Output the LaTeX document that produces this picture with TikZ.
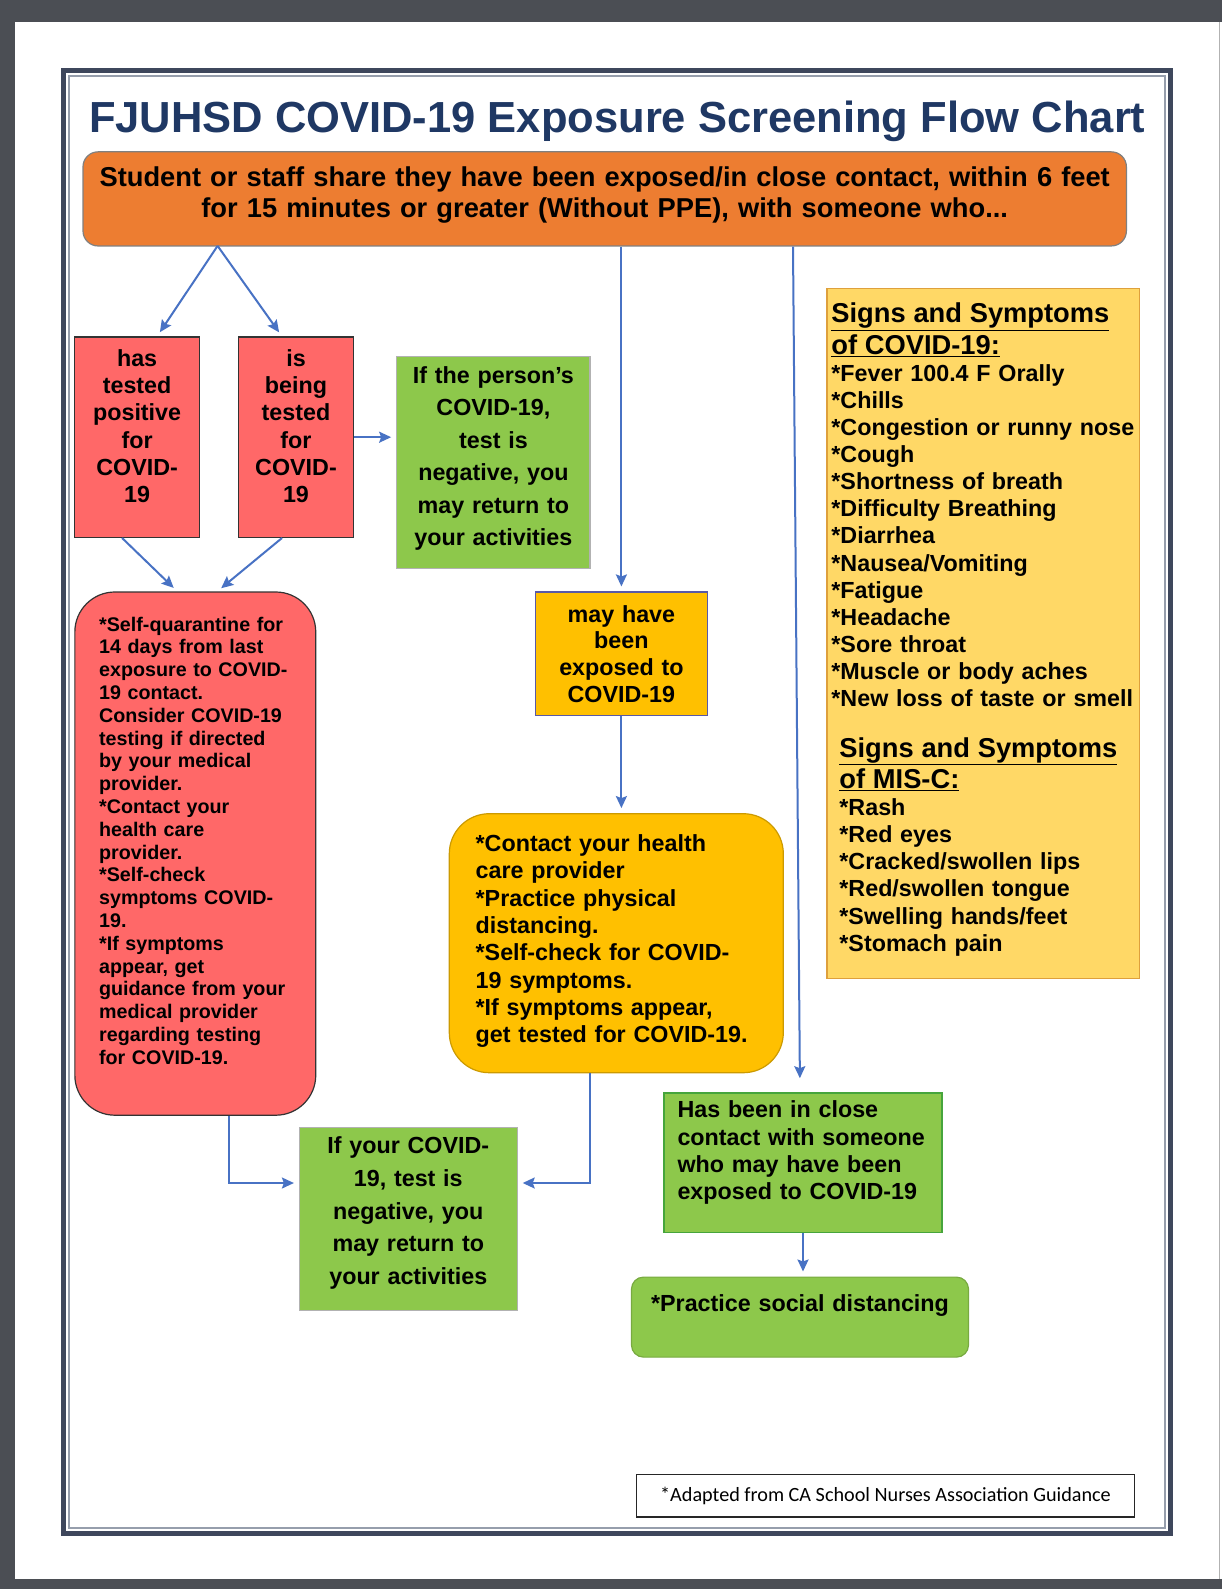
\documentclass[tikz,border=0pt]{standalone}
\usepackage{fontspec}
\setmainfont{Liberation Sans}
\newfontfamily\notefont{Carlito}
\usepackage{tikz}
\usetikzlibrary{arrows.meta}

\definecolor{pagegray}{RGB}{75,78,84}
\definecolor{framedark}{RGB}{62,71,92}
\definecolor{framelight}{RGB}{150,158,172}
\definecolor{titleblue}{RGB}{31,56,100}
\definecolor{orangefill}{RGB}{237,125,49}
\definecolor{redfill}{RGB}{255,104,104}
\definecolor{greenfill}{RGB}{141,200,75}
\definecolor{greenline}{RGB}{70,165,60}
\definecolor{yellowfill}{RGB}{255,192,0}
\definecolor{signfill}{RGB}{255,216,102}
\definecolor{signline}{RGB}{222,160,60}
\definecolor{arrowblue}{RGB}{72,114,196}

\tikzstyle{startstop} = [rectangle, rounded corners=15pt, minimum width=1043.4pt, minimum height=94.1pt, text width=1022pt, align=center, inner sep=0pt, draw=gray, line width=1.2pt, fill=orangefill, font=\bfseries\fontsize{27.3}{31.4}\selectfont]
\tikzstyle{redbox} = [rectangle, minimum height=200.4pt, align=center, inner sep=0pt, draw=black!80, line width=1.2pt, fill=redfill, font=\bfseries\fontsize{23.3}{27.3}\selectfont]
\tikzstyle{redround} = [rectangle, rounded corners=40pt, minimum width=240.9pt, minimum height=523.2pt, text width=192.3pt, align=left, inner sep=0pt, draw=black!80, line width=1.2pt, fill=redfill, font=\bfseries\fontsize{19.7}{22.8}\selectfont]
\tikzstyle{greenbox} = [rectangle, align=center, inner sep=0pt, draw=gray!60, line width=1.2pt, fill=greenfill, font=\bfseries\fontsize{23.3}{32.4}\selectfont]
\tikzstyle{yellowbox} = [rectangle, minimum width=172pt, minimum height=123.5pt, text width=162pt, align=center, inner sep=0pt, draw=gray!70!blue, line width=1.2pt, fill=yellowfill, font=\bfseries\fontsize{23.3}{26.6}\selectfont]
\tikzstyle{yellowround} = [rectangle, rounded corners=40pt, minimum width=334pt, minimum height=259pt, text width=281.3pt, align=left, inner sep=0pt, draw=yellowfill!80!black, line width=1.2pt, fill=yellowfill, font=\bfseries\fontsize{23.3}{27.3}\selectfont]
\tikzstyle{closebox} = [rectangle, minimum width=278.3pt, minimum height=139.7pt, text width=251pt, align=left, inner sep=0pt, draw=greenline, line width=1.5pt, fill=greenfill, font=\bfseries\fontsize{23.3}{27.3}\selectfont]
\tikzstyle{distbox} = [rectangle, rounded corners=12pt, minimum width=337pt, minimum height=80pt, text width=323.8pt, align=center, inner sep=0pt, draw=greenfill!85!black, line width=1.2pt, fill=greenfill, font=\bfseries\fontsize{23.3}{27.3}\selectfont]
\tikzstyle{signbox} = [rectangle, minimum width=312.7pt, minimum height=690.2pt, text width=303.6pt, align=left, inner sep=0pt, draw=signline, line width=1.5pt, fill=signfill, font=\bfseries\fontsize{23.3}{27.1}\selectfont]
\tikzstyle{notebox} = [rectangle, minimum width=497.9pt, minimum height=42.5pt, inner sep=0pt, draw=black!85, line width=1.5pt, fill=white, font=\notefont\fontsize{20.2}{24}\selectfont]
\tikzstyle{arrow} = [line width=2pt, ->, >={Stealth[length=12pt, width=11pt, inset=2pt]}, draw=arrowblue, shorten >=5pt]
\tikzset{lift/.style={execute at end node={\par\vspace{#1}}}}

\begin{document}
\begin{tikzpicture}[x=1pt, y=-1pt]

  \useasboundingbox (0,0) rectangle (1222,1589);
  \fill [pagegray] (0,0) rectangle (1222,1589);
  \fill [white] (15,22) rectangle (1222,1579);
  \draw [gray!60, line width=1pt] (1219,22) -- (1219,1579);
  \draw [framedark, line width=5pt] (63.5,70.5) rectangle (1170.5,1533.5);
  \draw [framelight, line width=1.2pt] (69,76) rectangle (1165,1528);

  \node (title) [anchor=base, text=titleblue, font=\bfseries\fontsize{43.5}{48}\selectfont] at (617.3,132.6) {FJUHSD COVID-19 Exposure Screening Flow Chart};

  \node (start) [startstop, lift=8pt] at (604.7,198.9) {Student or staff share they have been exposed/in close contact, within 6 feet\\for 15 minutes or greater (Without PPE), with someone who...};
  \coordinate (split) at (217.6,245.9);

  \node (positive) [redbox, minimum width=124.5pt, text width=114.4pt, lift=22pt] at (137.1,437.2) {has\\tested\\positive\\for\\COVID-\\19};
  \node (testing) [redbox, minimum width=114.4pt, text width=104.2pt, lift=22pt] at (296,437.2) {is\\being\\tested\\for\\COVID-\\19};
  \node (negfirst) [greenbox, minimum width=193.3pt, minimum height=212.5pt, text width=183.2pt, lift=8pt] at (493.4,462.5) {If the person's\\COVID-19,\\test is\\negative, you\\may return to\\your activities};

  \node (quarantine) [redround, lift=26pt] at (195.3,853.6) {*Self-quarantine for\\14 days from last\\exposure to COVID-\\19 contact.\\Consider COVID-19\\testing if directed\\by your medical\\provider.\\{}*Contact your\\health care\\provider.\\{}*Self-check\\symptoms COVID-\\19.\\{}*If symptoms\\appear, get\\guidance from your\\medical provider\\regarding testing\\for COVID-19.};

  \node (exposed) [yellowbox] at (621.4,653.8) {may have\\been\\exposed to\\COVID-19};
  \node (contact) [yellowround, lift=4pt] at (616.3,943.2) {*Contact your health\\care provider\\{}*Practice physical\\distancing.\\{}*Self-check for COVID-\\19 symptoms.\\{}*If symptoms appear,\\get tested for COVID-19.};

  \node (negsecond) [greenbox, minimum width=217.6pt, minimum height=183.2pt, text width=202.4pt, lift=12pt, font=\bfseries\fontsize{23.3}{32.9}\selectfont] at (408.3,1219) {If your COVID-\\19, test is\\negative, you\\may return to\\your activities};
  \node (close) [closebox, lift=20pt] at (803,1162.8) {Has been in close\\contact with someone\\who may have been\\exposed to COVID-19};
  \node (distance) [distbox, lift=24pt] at (800,1317.1) {*Practice social distancing};

  \node (signs) [signbox, lift=8pt] at (983.2,633.5) {{\fontsize{27.3}{31.4}\selectfont\underline{Signs and Symptoms}\\\underline{of COVID-19:}\par}
    *Fever 100.4 F Orally\\{}*Chills\\{}*Congestion or runny nose\\{}*Cough\\{}*Shortness of breath\\{}*Difficulty Breathing\\{}*Diarrhea\\{}*Nausea/Vomiting\\{}*Fatigue\\{}*Headache\\{}*Sore throat\\{}*Muscle or body aches\\{}*New loss of taste or smell\par
    \vspace{19.2pt}
    {\fontsize{27.3}{31.4}\selectfont\hspace*{8pt}\underline{Signs and Symptoms}\\\hspace*{8pt}\underline{of MIS-C:}\par}
    \hspace*{8pt}*Rash\\\hspace*{8pt}*Red eyes\\\hspace*{8pt}*Cracked/swollen lips\\\hspace*{8pt}*Red/swollen tongue\\\hspace*{8pt}*Swelling hands/feet\\\hspace*{8pt}*Stomach pain};

  \node (note) [notebox] at (885.5,1495.7) {*Adapted from CA School Nurses Association Guidance};

  \draw [arrow] (split) -- ([xshift=20pt]positive.north);
  \draw [arrow] (split) -- ([xshift=-14pt]testing.north);
  \draw [arrow] (testing.east) -- (testing.east -| negfirst.west);
  \draw [arrow] ([xshift=-15pt]positive.south) -- ([xshift=-18pt]quarantine.north);
  \draw [arrow] ([xshift=-14pt]testing.south) -- ([xshift=22pt]quarantine.north);
  \draw [arrow] (start.south -| exposed.north) -- (exposed.north);
  \draw [arrow, shorten >=14pt] ([xshift=-10pt]start.south -| close.north) -- ([xshift=-3pt]close.north);
  \draw [arrow] (exposed.south) -- (exposed.south |- contact.north);
  \draw [arrow] ([xshift=34pt]quarantine.south) |- ([yshift=36pt]negsecond.west);
  \draw [arrow] ([xshift=-26pt]contact.south) |- ([yshift=36pt]negsecond.east);
  \draw [arrow] (close.south) -- (close.south |- distance.north);

\end{tikzpicture}
\end{document}
